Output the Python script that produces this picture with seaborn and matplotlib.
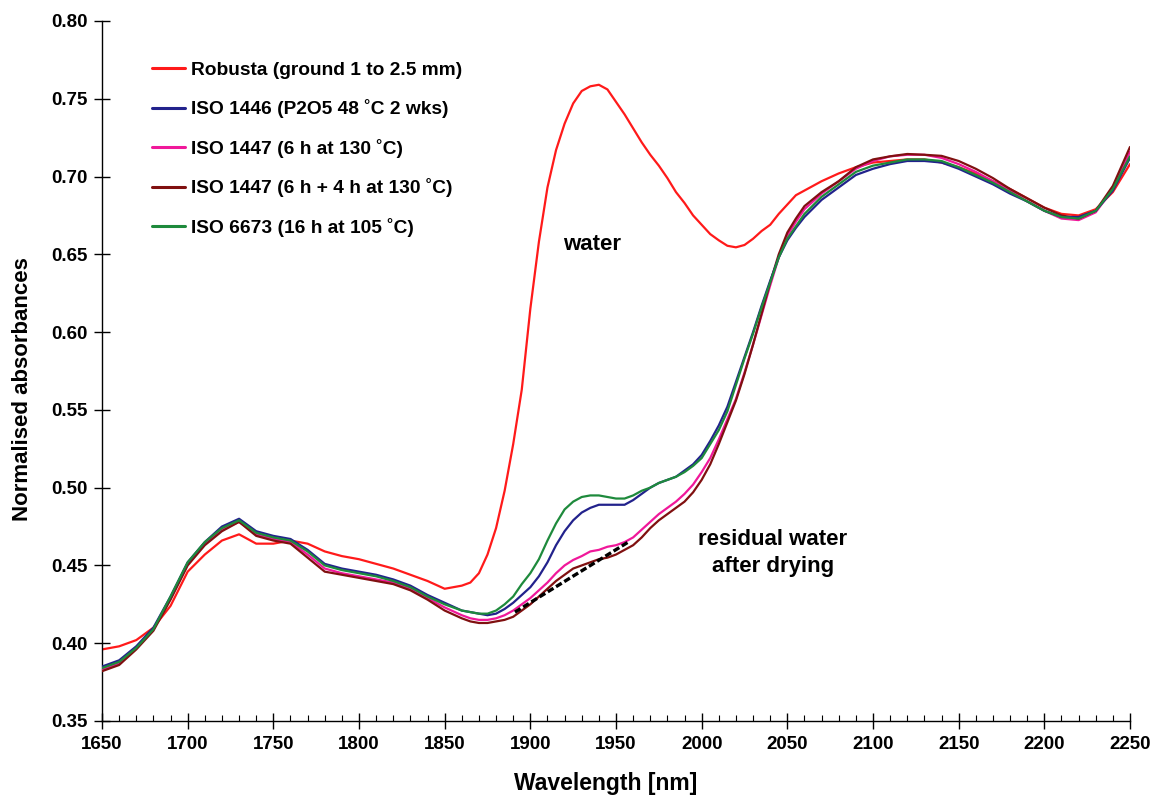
import numpy as np
import pandas as pd
import matplotlib
matplotlib.use("Agg")
import matplotlib.pyplot as plt
import seaborn as sns
from matplotlib.ticker import MultipleLocator, FormatStrFormatter

# ---------------- data ----------------
wavelength = [1650, 1660, 1670, 1680, 1690, 1700, 1710, 1720, 1730, 1740, 1750,
              1760, 1770, 1780, 1790, 1800, 1810, 1820, 1830, 1840, 1850, 1860,
              1865, 1870, 1875, 1880, 1885, 1890, 1895, 1900, 1905, 1910, 1915,
              1920, 1925, 1930, 1935, 1940, 1945, 1950, 1955, 1960, 1965, 1970,
              1975, 1980, 1985, 1990, 1995, 2000, 2005, 2010, 2015, 2020, 2025,
              2030, 2035, 2040, 2045, 2050, 2055, 2060,
              2070, 2080, 2090, 2100, 2110, 2120, 2130, 2140, 2150, 2160, 2170,
              2180, 2190, 2200, 2210, 2220, 2230, 2240, 2250]

robusta = [0.396, 0.398, 0.402, 0.410, 0.424, 0.446, 0.457, 0.466, 0.470, 0.464, 0.464,
           0.466, 0.464, 0.459, 0.456, 0.454, 0.451, 0.448, 0.444, 0.440, 0.435, 0.437,
           0.439, 0.445, 0.457, 0.474, 0.498, 0.528, 0.563, 0.615, 0.658, 0.693, 0.717,
           0.734, 0.747, 0.755, 0.758, 0.759, 0.756, 0.748, 0.740, 0.731, 0.722, 0.714,
           0.707, 0.699, 0.690, 0.683, 0.675, 0.669, 0.663, 0.659, 0.6555, 0.6545, 0.656,
           0.660, 0.665, 0.669, 0.676, 0.682, 0.688, 0.691,
           0.697, 0.702, 0.706, 0.709, 0.710, 0.711, 0.711, 0.709, 0.706, 0.702, 0.697,
           0.692, 0.686, 0.680, 0.676, 0.675, 0.679, 0.690, 0.708]

iso1446 = [0.385, 0.389, 0.398, 0.410, 0.430, 0.452, 0.465, 0.475, 0.480, 0.472, 0.469,
           0.467, 0.460, 0.451, 0.448, 0.446, 0.444, 0.441, 0.437, 0.431, 0.426, 0.421,
           0.420, 0.419, 0.418, 0.419, 0.422, 0.426, 0.431, 0.436, 0.443, 0.452, 0.463,
           0.472, 0.479, 0.484, 0.487, 0.489, 0.489, 0.489, 0.489, 0.492, 0.496, 0.500,
           0.503, 0.505, 0.507, 0.511, 0.515, 0.521, 0.530, 0.540, 0.552, 0.568, 0.584,
           0.600, 0.617, 0.633, 0.648, 0.659, 0.667, 0.674,
           0.685, 0.693, 0.701, 0.705, 0.708, 0.710, 0.710, 0.709, 0.705, 0.700, 0.695,
           0.689, 0.684, 0.678, 0.674, 0.674, 0.678, 0.691, 0.712]

iso1447_6h = [0.383, 0.387, 0.397, 0.409, 0.429, 0.451, 0.464, 0.473, 0.478, 0.470, 0.467,
              0.465, 0.457, 0.448, 0.445, 0.443, 0.441, 0.439, 0.435, 0.429, 0.423, 0.418,
              0.416, 0.415, 0.415, 0.416, 0.418, 0.421, 0.425, 0.429, 0.434, 0.439, 0.445,
              0.450, 0.4535, 0.456, 0.459, 0.460, 0.462, 0.463, 0.465, 0.468, 0.473, 0.478,
              0.483, 0.487, 0.491, 0.496, 0.502, 0.510, 0.519, 0.531, 0.544, 0.557, 0.574,
              0.592, 0.611, 0.630, 0.648, 0.662, 0.671, 0.679,
              0.689, 0.697, 0.705, 0.710, 0.713, 0.714, 0.714, 0.712, 0.708, 0.703, 0.697,
              0.691, 0.684, 0.678, 0.673, 0.672, 0.677, 0.692, 0.716]

iso1447_10h = [0.382, 0.386, 0.396, 0.408, 0.428, 0.450, 0.463, 0.472, 0.478, 0.469, 0.466,
               0.464, 0.455, 0.446, 0.444, 0.442, 0.440, 0.438, 0.434, 0.428, 0.421, 0.416,
               0.414, 0.413, 0.413, 0.414, 0.415, 0.417, 0.421, 0.425, 0.430, 0.435, 0.440,
               0.444, 0.448, 0.450, 0.452, 0.454, 0.455, 0.457, 0.460, 0.463, 0.468, 0.474,
               0.479, 0.483, 0.487, 0.491, 0.497, 0.505, 0.515, 0.528, 0.542, 0.556, 0.573,
               0.592, 0.612, 0.632, 0.650, 0.664, 0.673, 0.681,
               0.690, 0.697, 0.706, 0.711, 0.713, 0.7145, 0.714, 0.7133, 0.710, 0.705, 0.699,
               0.692, 0.686, 0.680, 0.675, 0.673, 0.678, 0.694, 0.719]

iso6673 = [0.384, 0.388, 0.397, 0.409, 0.430, 0.452, 0.465, 0.474, 0.479, 0.471, 0.468,
           0.466, 0.459, 0.450, 0.447, 0.445, 0.443, 0.440, 0.436, 0.430, 0.425, 0.421,
           0.420, 0.419, 0.419, 0.421, 0.425, 0.430, 0.438, 0.445, 0.454, 0.466, 0.477,
           0.486, 0.491, 0.494, 0.495, 0.495, 0.494, 0.493, 0.493, 0.495, 0.498, 0.500,
           0.503, 0.505, 0.507, 0.510, 0.514, 0.519, 0.528, 0.537, 0.549, 0.566, 0.583,
           0.599, 0.616, 0.632, 0.648, 0.660, 0.668, 0.676,
           0.687, 0.695, 0.703, 0.707, 0.709, 0.711, 0.711, 0.710, 0.706, 0.701, 0.696,
           0.690, 0.684, 0.678, 0.674, 0.673, 0.678, 0.692, 0.713]

series_names = ["Robusta (ground 1 to 2.5 mm)",
                "ISO 1446 (P2O5 48 \u02daC 2 wks)",
                "ISO 1447 (6 h at 130 \u02daC)",
                "ISO 1447 (6 h + 4 h at 130 \u02daC)",
                "ISO 6673 (16 h at 105 \u02daC)"]
series_values = [robusta, iso1446, iso1447_6h, iso1447_10h, iso6673]
series_colors = ["#FF1A1A", "#22228C", "#F0189A", "#801010", "#1E8A3C"]

trend_x = [1891, 1958]
trend_y = [0.420, 0.4656]

x_ticks = list(range(1650, 2251, 50))
y_ticks = [0.35, 0.40, 0.45, 0.50, 0.55, 0.60, 0.65, 0.70, 0.75, 0.80]

# ---------------- build long table ----------------
frames = []
for name, vals in zip(series_names, series_values):
    frames.append(pd.DataFrame({"wavelength": wavelength, "absorbance": vals, "sample": name}))
df = pd.concat(frames, ignore_index=True)

sns.set_style("ticks")
plt.rcParams["font.family"] = ["Liberation Sans", "DejaVu Sans"]
plt.rcParams["font.weight"] = "bold"
plt.rcParams["text.color"] = "black"
plt.rcParams["axes.labelcolor"] = "black"
plt.rcParams["xtick.color"] = "black"
plt.rcParams["ytick.color"] = "black"
plt.rcParams["axes.edgecolor"] = "black"

fig = plt.figure(figsize=(11.5, 7.95), dpi=100)
ax = fig.add_axes([0.0887, 0.0931, 0.8939, 0.8805])

sns.lineplot(data=df, x="wavelength", y="absorbance", hue="sample",
             hue_order=series_names, palette=series_colors, linewidth=1.6,
             ax=ax, sort=False, estimator=None)

# drawing order: green on top, red at bottom
z = {series_names[0]: 2, series_names[2]: 3, series_names[3]: 4,
     series_names[1]: 5, series_names[4]: 6}
for line, name in zip(ax.lines[:5], series_names):
    line.set_zorder(z[name])

tr = pd.DataFrame({"x": trend_x, "y": trend_y})
sns.lineplot(data=tr, x="x", y="y", ax=ax, color="black", linewidth=2.4,
             dashes=False, legend=False, zorder=8)
ax.lines[-1].set_dashes([2.0, 0.9])

ax.set_xlim(1650, 2250)
ax.set_ylim(0.35, 0.80)
ax.set_xticks(x_ticks)
ax.set_yticks(y_ticks)
ax.xaxis.set_minor_locator(MultipleLocator(10))
ax.yaxis.set_major_formatter(FormatStrFormatter("%.2f"))

for s in ["top", "right"]:
    ax.spines[s].set_visible(False)
for s in ["left", "bottom"]:
    ax.spines[s].set_color("black")
    ax.spines[s].set_linewidth(1.0)

ax.tick_params(axis="both", which="major", direction="inout", length=11, width=1,
               color="black", labelsize=13.5, labelcolor="black")
ax.tick_params(axis="x", which="major", pad=5)
ax.tick_params(axis="y", which="major", pad=5)
ax.tick_params(axis="x", which="minor", direction="in", length=4, width=0.8, color="black")
for lab in ax.get_xticklabels() + ax.get_yticklabels():
    lab.set_fontweight("bold")
    lab.set_color("black")

ax.set_xlabel("Wavelength [nm]", fontsize=16.5, fontweight="bold", va="center", color="black")
ax.set_ylabel("Normalised absorbances", fontsize=16, fontweight="bold", va="center", color="black")
ax.xaxis.set_label_coords(0.490, -0.0886)
ax.yaxis.set_label_coords(-0.0778, 0.474)

ax.text(1936, 0.656, "water", fontsize=16, fontweight="bold", ha="center", va="center",
        color="black")
ax.text(2041.5, 0.4580, "residual water\nafter drying", fontsize=16, fontweight="bold",
        ha="center", va="center", linespacing=1.38, color="black")

leg_handles, leg_labels = ax.get_legend_handles_labels()
leg = ax.legend(leg_handles[:5], leg_labels[:5], frameon=False, loc="upper left",
                bbox_to_anchor=(0.0413, 0.953), borderaxespad=0,
                prop={"size": 13.8, "weight": "bold"},
                labelspacing=1.07, handlelength=1.72, handletextpad=0.3)
for t in leg.get_texts():
    t.set_color("black")
for h in leg.get_lines():
    h.set_linewidth(2.2)

fig.savefig("out.png", dpi=100, facecolor="white")
